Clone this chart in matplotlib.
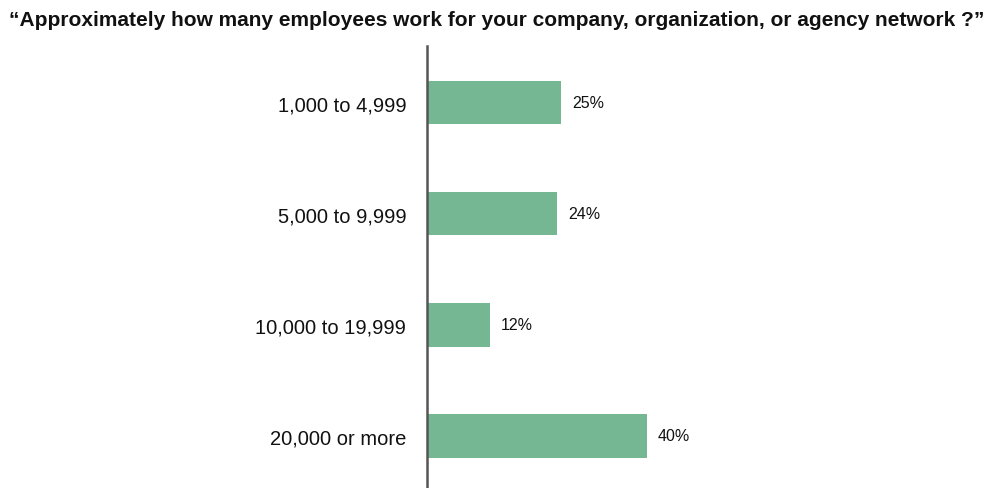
import matplotlib.pyplot as plt

plt.rcParams['font.family'] = ['Liberation Sans', 'DejaVu Sans']

# Data.
categories = ['1,000 to 4,999', '5,000 to 9,999', '10,000 to 19,999', '20,000 or more']
values = [24.6, 23.9, 11.6, 40.4]
value_labels = ['25%', '24%', '12%', '40%']

bar_color = '#75b792'

fig = plt.figure(figsize=(9.9, 4.89), dpi=100)
ax = fig.add_axes([427 / 990, 0, 563 / 990, 442 / 489])

pos = list(range(len(categories)))
ax.barh(pos, values, height=0.39, color=bar_color)

# Value labels next to each bar.
for p, v, lab in zip(pos, values, value_labels):
    ax.text(v + 2.0, p, lab, va='center', ha='left', fontsize=11.5, color='#111111')

ax.set_xlim(0, 563 / 5.45)
ax.set_ylim(3.468, -0.509)

ax.set_yticks(pos)
ax.set_yticklabels(categories, fontsize=14.5, color='#111111')
ax.tick_params(axis='y', length=0, pad=15)
ax.set_xticks([])

for s in ['top', 'right', 'bottom']:
    ax.spines[s].set_visible(False)
ax.spines['left'].set_color('#555555')
ax.spines['left'].set_linewidth(1.8)

fig.text(497 / 990, 1 - 26 / 489,
         '\u201cApproximately how many employees work for your company, organization, or agency network ?\u201d',
         ha='center', va='baseline', fontsize=15, fontweight='bold', color='#111111')

fig.savefig('out.png', dpi=100)
